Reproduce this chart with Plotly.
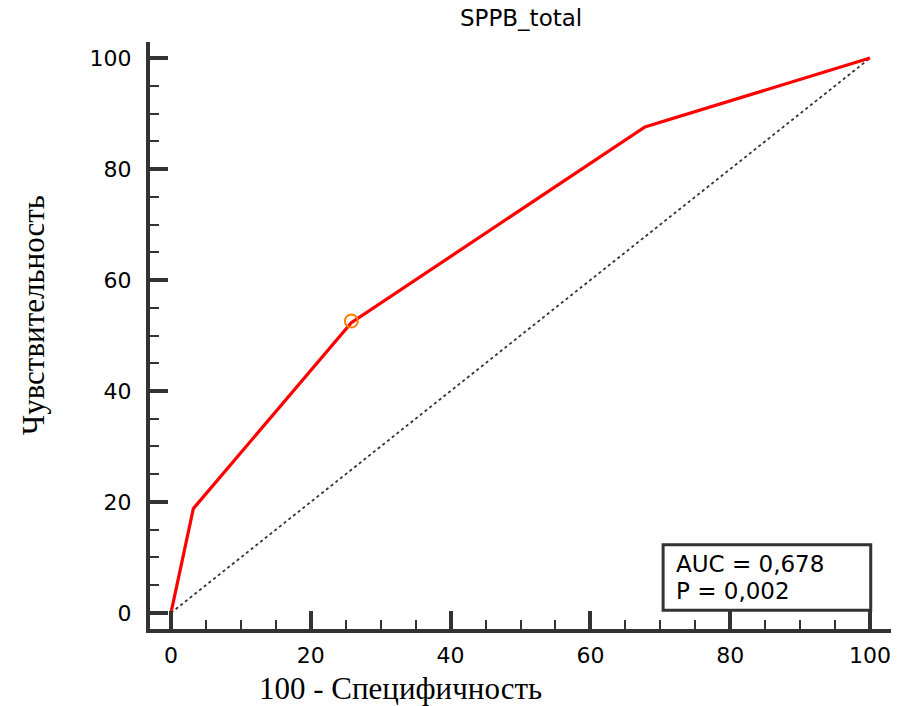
import plotly.graph_objects as go

# ROC data
fpr = [0, 3.2, 25.8, 67.8, 100]
tpr = [0, 18.8, 52.3, 87.6, 100]
diag_x = [0, 100]
diag_y = [0, 100]
opt_x = [25.8]
opt_y = [52.6]
x_ticks = [0, 20, 40, 60, 80, 100]
y_ticks = [0, 20, 40, 60, 80, 100]
title = "SPPB_total"
x_title = "100 - Специфичность"
y_title = "Чувствительность"
auc_text = "AUC = 0,678"
p_text = "P = 0,002"

SANS = "DejaVu Sans, Liberation Sans, Arial"
SERIF = "Liberation Serif, Times New Roman"

fig = go.Figure()
fig.add_trace(go.Scatter(x=diag_x, y=diag_y, mode="lines",
                         line=dict(color="#333333", width=1.8, dash="dot"),
                         hoverinfo="skip", showlegend=False))
fig.add_trace(go.Scatter(x=fpr, y=tpr, mode="lines",
                         line=dict(color="#ff0000", width=3.2),
                         showlegend=False))
fig.add_trace(go.Scatter(x=opt_x, y=opt_y, mode="markers",
                         marker=dict(symbol="circle-open", size=13, color="#ff7f00",
                                     line=dict(width=2, color="#ff7f00")),
                         showlegend=False))

axis_common = dict(
    showline=True, linecolor="#333333", linewidth=4, mirror=False,
    showgrid=False, zeroline=False,
    ticks="inside", ticklen=18, tickwidth=4, tickcolor="#333333",
    tickfont=dict(family=SANS, size=22, color="#000000"),
    minor=dict(dtick=5, ticks="inside", ticklen=9, tickwidth=2, tickcolor="#333333", showgrid=False),
)

fig.update_xaxes(range=[-3, 103], tickvals=x_ticks, ticklabelstandoff=4, **axis_common)
fig.update_yaxes(range=[-2.9, 102.9], tickvals=y_ticks, ticklabelstandoff=10, **axis_common)

fig.update_layout(
    width=898, height=706,
    margin=dict(l=150, r=7, t=42, b=77),
    plot_bgcolor="white", paper_bgcolor="white",
    showlegend=False,
    shapes=[dict(type="rect", xref="x", yref="y", x0=70.4, x1=100.1, y0=0.5, y1=12.3,
                 line=dict(color="#333333", width=3), fillcolor="white", layer="above")],
    annotations=[
        dict(text=title, xref="paper", yref="paper", x=0.5, y=1, yshift=24,
             xanchor="center", yanchor="middle", showarrow=False,
             font=dict(family=SANS, size=23, color="#000")),
        dict(text=x_title, xref="paper", yref="paper", x=(400 - 150) / 741, y=0,
             yshift=-59, xanchor="center", yanchor="middle", showarrow=False,
             font=dict(family=SERIF, size=31, color="#000")),
        dict(text=y_title, xref="paper", yref="paper", x=0, xshift=-117,
             y=(629 - 315) / 587, yanchor="middle", xanchor="center", textangle=-90,
             showarrow=False,
             font=dict(family=SERIF, size=31, color="#000")),
        dict(text=auc_text, xref="x", yref="y", x=72.0, y=8.9, xanchor="left",
             yanchor="middle", showarrow=False,
             font=dict(family=SANS, size=23, color="#000")),
        dict(text=p_text, xref="x", yref="y", x=72.0, y=3.9, xanchor="left",
             yanchor="middle", showarrow=False,
             font=dict(family=SANS, size=23, color="#000")),
    ],
)

fig.write_html("out.html")
